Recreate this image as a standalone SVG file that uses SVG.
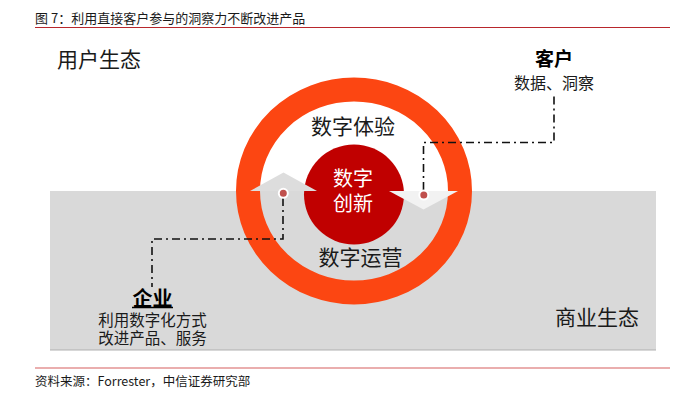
<svg xmlns="http://www.w3.org/2000/svg" width="682" height="400" viewBox="0 0 682 400">
<style>
text{font-family:"Noto Sans CJK SC","Liberation Sans",sans-serif;fill:#1a1a1a}
.lbl{font-size:21px;text-anchor:middle}
.sub{font-size:15.5px;text-anchor:middle}
.hd{font-size:19px;font-weight:bold;text-anchor:middle;fill:#000}
.dash{fill:none;stroke:#111;stroke-width:1.6;stroke-dasharray:8 4 2 4}
.dot{fill:#C0504D;stroke:#fff;stroke-width:2}
</style>
<rect width="682" height="400" fill="#fff"/>
<text x="35" y="23" style="font-size:13px">图 7：利用直接客户参与的洞察力不断改进产品</text>
<line x1="35" y1="27.5" x2="670" y2="27.5" stroke="#B8272C" stroke-width="1.2"/>
<g id="business-eco">
<rect x="50" y="191" width="606" height="159" fill="#D9D9D9"/>
<line x1="50" y1="350" x2="656" y2="350" stroke="#AFAFAF" stroke-width="1"/>
<text class="lbl" x="597" y="325">商业生态</text>
</g>
<g id="user-eco"><text class="lbl" x="99" y="67">用户生态</text></g>
<g id="ring">
<ellipse cx="354" cy="191" rx="106" ry="101.5" fill="none" stroke="#FC4612" stroke-width="24"/>
<text class="lbl" x="353" y="134">数字体验</text>
<text class="lbl" x="360.5" y="265">数字运营</text>
</g>
<g id="core">
<circle cx="354" cy="194.5" r="50" fill="#C00000"/>
<text class="lbl" x="353" y="185.5" style="fill:#fff;font-size:20px">数字</text>
<text class="lbl" x="353" y="211" style="fill:#fff;font-size:20px">创新</text>
</g>
<g id="arrows">
<polygon points="250,191 283.5,172.5 317,191" fill="#DDDDDD"/>
<polygon points="389,191 458,191 423.5,209.5" fill="#F2F2F2"/>
</g>
<g id="connectors">
<polyline class="dash" points="283,198 283,239 152,239 152,287"/>
<polyline class="dash" points="423.5,190 423.5,142.5 554,142.5 554,94"/>
<circle class="dot" cx="283.3" cy="193.3" r="4.5"/>
<circle class="dot" cx="423.8" cy="195" r="4.5"/>
</g>
<g id="customer">
<text class="hd" x="554" y="66">客户</text>
<text class="sub" x="554" y="89" style="font-size:16px">数据、洞察</text>
</g>
<g id="enterprise">
<text class="hd" x="152.5" y="305.5" style="font-size:20px">企业</text>
<line x1="132" y1="307.5" x2="173" y2="307.5" stroke="#000" stroke-width="1.5"/>
<text class="sub" x="152.5" y="325.5">利用数字化方式</text>
<text class="sub" x="152.5" y="344">改进产品、服务</text>
</g>
<line x1="35" y1="368" x2="670" y2="368" stroke="#E39393" stroke-width="1.5"/>
<text x="35" y="386" style="font-size:12.5px">资料来源：Forrester，中信证券研究部</text>
</svg>
